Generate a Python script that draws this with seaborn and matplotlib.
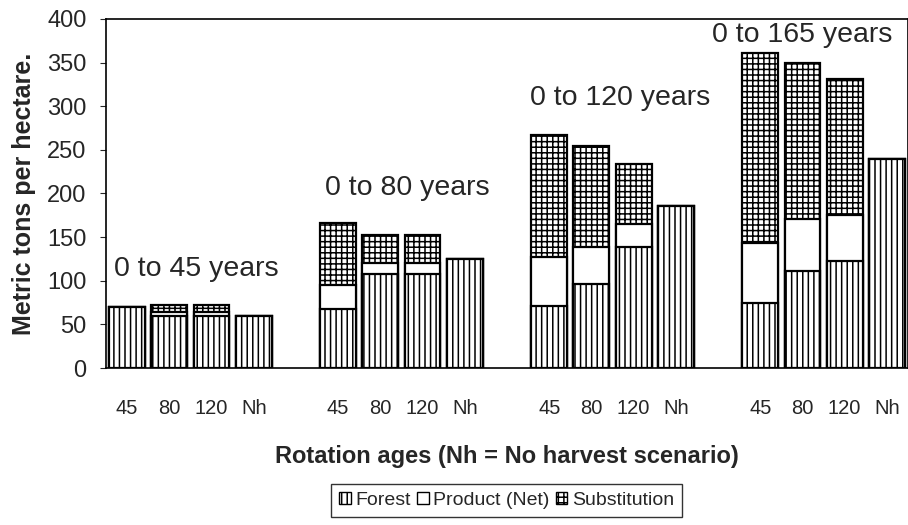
import numpy as np
import pandas as pd
import matplotlib
matplotlib.use('Agg')
import matplotlib.pyplot as plt
import seaborn as sns
from matplotlib.patches import Patch

# periods and rotation ages
periods = ['0 to 45 years', '0 to 80 years', '0 to 120 years', '0 to 165 years']
rotations = ['45', '80', '120', 'Nh']

# carbon stores (metric tons / ha), one value per rotation in each period
forest = [70, 60, 60, 60,
          68, 108, 108, 125,
          71, 96, 139, 186,
          75, 111, 123, 240]
product = [0, 4, 4, 0,
           27, 12, 12, 0,
           56, 43, 26, 0,
           68, 60, 52, 0]
substitution = [0, 8, 8, 0,
                71, 32, 32, 0,
                140, 115, 69, 0,
                218, 179, 156, 0]

# build the slot table, with an empty slot between the periods
rows = []
order = []
tick_labels = []
k = 0
for i, period in enumerate(periods):
    for rot in rotations:
        slot = f'{i}_{rot}'
        order.append(slot)
        tick_labels.append(rot)
        rows.append({'slot': slot, 'period': period, 'rotation': rot,
                     'forest': forest[k], 'product': product[k],
                     'substitution': substitution[k]})
        k += 1
    if i < len(periods) - 1:
        order.append(f'gap{i}')
        tick_labels.append('')
df = pd.DataFrame(rows)
df['forest_product'] = df['forest'] + df['product']
df['total'] = df['forest_product'] + df['substitution']

sns.set_style('white')
plt.rcParams['font.family'] = ['Liberation Sans', 'DejaVu Sans']
plt.rcParams['hatch.linewidth'] = 1.1

fig = plt.figure(figsize=(9.08, 5.25), dpi=100)
ax = fig.add_axes([0.1167, 0.299, 0.8833, 0.665])

bar_kw = dict(data=df, x='slot', order=order, width=0.85, saturation=1,
              edgecolor='black', linewidth=1.6, errorbar=None, ax=ax)
# stacked by overdrawing: total first, then forest+product, then forest
sns.barplot(y='total', color='white', hatch='+++', **bar_kw)
sns.barplot(y='forest_product', color='white', **bar_kw)
sns.barplot(y='forest', color='white', hatch='|||', **bar_kw)

ax.set_xlim(-0.5, len(order) - 0.5)
ax.set_ylim(0, 400)
ax.set_yticks(range(0, 401, 50))
ax.set_xticks(range(len(order)))
ax.set_xticklabels(tick_labels)
ax.set_xticks(np.arange(-0.5, len(order), 1), minor=True)
ax.tick_params(axis='x', which='major', length=0, pad=22, labelsize=14.5)
ax.tick_params(axis='x', which='minor', length=4, direction='out', width=0.8, color='#555555')
ax.tick_params(axis='y', length=4, direction='out', width=0.8, pad=10, labelsize=17, left=True)

for side in ['left', 'bottom', 'top', 'right']:
    ax.spines[side].set_visible(True)
    ax.spines[side].set_color('black')
    ax.spines[side].set_linewidth(1.2)

ax.set_xlabel('Rotation ages (Nh = No harvest scenario)', fontsize=17,
              fontweight='bold', labelpad=20)
ax.set_ylabel('Metric tons per hectare.', fontsize=18, fontweight='bold', labelpad=8)

# period labels above each group
label_pos = [(1.65, 114), (6.63, 206), (11.68, 309), (16.0, 382)]
for period, (x, y) in zip(periods, label_pos):
    ax.text(x, y, period, fontsize=20.5, ha='center', va='center')

handles = [Patch(facecolor='white', edgecolor='black', hatch='|||', label='Forest'),
           Patch(facecolor='white', edgecolor='black', label='Product (Net)'),
           Patch(facecolor='white', edgecolor='black', hatch='+++', label='Substitution')]
leg = fig.legend(handles=handles, loc='upper center', bbox_to_anchor=(0.558, 0.078),
                 ncol=3, fontsize=14, frameon=True, fancybox=False,
                 handlelength=0.6, handleheight=0.6, handletextpad=0.25,
                 columnspacing=0.3, borderpad=0.4, borderaxespad=0)
leg.get_frame().set_edgecolor('black')
leg.get_frame().set_linewidth(1.0)

fig.savefig('out.png', dpi=100)
